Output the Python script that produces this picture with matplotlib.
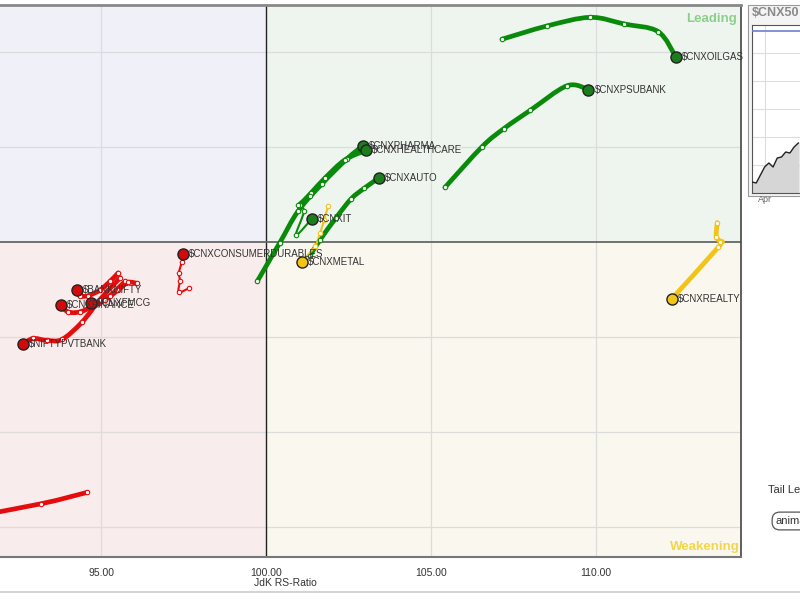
import matplotlib
matplotlib.use("Agg")
import matplotlib.pyplot as plt
from matplotlib.patches import Rectangle, PathPatch
from matplotlib.path import Path
from matplotlib.lines import Line2D

plt.rcParams['font.family'] = ['Liberation Sans', 'DejaVu Sans']

# ---------------- data (JdK RS-Ratio, JdK RS-Momentum) ----------------
names = ["$CNXOILGAS", "$CNXPSUBANK", "$CNXPHARMA", "$CNXHEALTHCARE", "$CNXAUTO",
         "$CNXIT", "$CNXMETAL", "$CNXREALTY", "$CNXCONSUMERDURABLES", "$BANKNIFTY",
         "$CNXFINANCE", "$CNXFMCG", "$NIFTYPVTBANK", "$CNXMEDIA"]

oilgas_x = [107.15, 108.52, 109.82, 110.85, 111.88, 112.42]
oilgas_y = [102.13, 102.27, 102.36, 102.29, 102.21, 101.94]
psubank_x = [105.42, 106.55, 107.21, 108.00, 109.12, 109.76]
psubank_y = [100.57, 101.00, 101.19, 101.38, 101.64, 101.60]
pharma_x = [99.73, 100.42, 100.97, 101.70, 102.45, 102.94]
pharma_y = [99.58, 99.99, 100.32, 100.61, 100.87, 101.01]
health_x = [101.03, 101.36, 101.79, 102.39, 103.03]
health_y = [100.39, 100.51, 100.67, 100.86, 100.96]
auto_x = [101.33, 101.64, 102.12, 102.58, 102.97, 103.42]
auto_y = [99.85, 100.02, 100.25, 100.45, 100.56, 100.67]
it_x = [101.33, 100.97, 101.15, 100.91, 101.39]
it_y = [100.48, 100.39, 100.32, 100.07, 100.24]
metal_x = [101.88, 101.76, 101.64, 101.48, 101.09]
metal_y = [100.37, 100.23, 100.09, 99.95, 99.79]
realty_x = [113.67, 113.64, 113.76, 113.70, 112.30]
realty_y = [100.20, 100.05, 100.00, 99.94, 99.40]
cdur_x = [97.67, 97.36, 97.39, 97.36, 97.45, 97.48]
cdur_y = [99.51, 99.47, 99.59, 99.67, 99.79, 99.87]
bank_x = [95.52, 95.27, 94.97, 94.61, 94.36, 94.27]
bank_y = [99.67, 99.58, 99.49, 99.43, 99.43, 99.49]
fin_x = [95.73, 95.27, 94.82, 94.36, 94.00, 93.79]
fin_y = [99.58, 99.43, 99.33, 99.26, 99.26, 99.33]
fmcg_x = [96.09, 95.82, 95.52, 95.12, 94.70]
fmcg_y = [99.56, 99.57, 99.49, 99.39, 99.35]
pvt_x = [95.58, 94.97, 94.42, 93.82, 93.36, 92.94, 92.64]
pvt_y = [99.62, 99.39, 99.15, 98.97, 98.96, 98.98, 98.92]
media_x = [94.58, 93.18, 90.73]
media_y = [97.36, 97.24, 97.08]

xs = [oilgas_x, psubank_x, pharma_x, health_x, auto_x, it_x, metal_x, realty_x,
      cdur_x, bank_x, fin_x, fmcg_x, pvt_x, media_x]
ys = [oilgas_y, psubank_y, pharma_y, health_y, auto_y, it_y, metal_y, realty_y,
      cdur_y, bank_y, fin_y, fmcg_y, pvt_y, media_y]
quadrant = ["L", "L", "L", "L", "L", "L", "W", "W", "G", "G", "G", "G", "G", "G"]
thin = [False, False, False, False, False, True, True, False, True, False, False, False, False, False]

x_ticks = [95, 100, 105, 110]

# mini benchmark chart
bench_name = "$CNX50"
bench_vals = [11, 10, 18, 26, 30, 26, 35, 36, 41, 40, 46, 50]

# ---------------- styling ----------------
tail_col = {"L": "#0a8a0a", "W": "#f2c318", "G": "#e30d0d"}
head_col = {"L": "#1c7d1c", "W": "#f2c318", "G": "#d40a0a"}


def smooth_path(px, py):
    """Catmull-Rom curve through the given points, as cubic Bezier path."""
    pts = list(zip(px, py))
    n = len(pts)
    verts = [pts[0]]
    codes = [Path.MOVETO]
    for i in range(n - 1):
        p0 = pts[i - 1] if i > 0 else pts[i]
        p1 = pts[i]
        p2 = pts[i + 1]
        p3 = pts[i + 2] if i + 2 < n else pts[i + 1]
        c1 = (p1[0] + (p2[0] - p0[0]) / 6, p1[1] + (p2[1] - p0[1]) / 6)
        c2 = (p2[0] - (p3[0] - p1[0]) / 6, p2[1] - (p3[1] - p1[1]) / 6)
        verts += [c1, c2, p2]
        codes += [Path.CURVE4] * 3
    return Path(verts, codes)


fig = plt.figure(figsize=(8, 6), dpi=100, facecolor="white")
W, H = 800, 600
ax = fig.add_axes([0, 1 - 557 / H, 741 / W, (557 - 5) / H])

x0, x1 = 91.94, 114.39
y0, y1 = 96.68, 102.49
ax.set_xlim(x0, x1)
ax.set_ylim(y0, y1)

# quadrant backgrounds
ax.add_patch(Rectangle((x0, 100), 100 - x0, y1 - 100, color="#f0f0f9", zorder=0, lw=0))
ax.add_patch(Rectangle((100, 100), x1 - 100, y1 - 100, color="#eef5ee", zorder=0, lw=0))
ax.add_patch(Rectangle((100, y0), x1 - 100, 100 - y0, color="#faf7ef", zorder=0, lw=0))
ax.add_patch(Rectangle((x0, y0), 100 - x0, 100 - y0, color="#f9ecec", zorder=0, lw=0))

for gx in [95, 105, 110]:
    ax.axvline(gx, color="#dcdcdc", lw=0.9, zorder=1)
for gy in [97, 98, 99, 101, 102]:
    ax.axhline(gy, color="#dcdcdc", lw=0.9, zorder=1)
ax.axvline(100, color="#222222", lw=1.0, zorder=2)
ax.axhline(100, color="#666666", lw=1.3, zorder=2)

ax.set_xticks(x_ticks)
ax.set_xticklabels(["%.2f" % t for t in x_ticks], fontsize=7.5, color="#333333")
ax.tick_params(axis="x", length=0, pad=8)
ax.set_yticks([])

ax.spines["left"].set_visible(False)
ax.spines["top"].set_color("#888888"); ax.spines["top"].set_linewidth(2)
ax.spines["right"].set_color("#444444"); ax.spines["right"].set_linewidth(1.2)
ax.spines["bottom"].set_color("#777777"); ax.spines["bottom"].set_linewidth(1.5)

for name, tx, ty, q, th in zip(names, xs, ys, quadrant, thin):
    lw = 1.5 if th else 3.4
    ax.add_patch(PathPatch(smooth_path(tx, ty), fill=False, edgecolor=tail_col[q], lw=lw,
                           capstyle="round", joinstyle="round", zorder=4))
    ax.plot(tx[:-1], ty[:-1], ls="none", marker="o", ms=3.2, mfc="white",
            mec=tail_col[q], mew=0.8, zorder=5)
    ax.plot(tx[-1], ty[-1], ls="none", marker="o", ms=8, mfc=head_col[q],
            mec="#222222", mew=1.0, zorder=6)
    ax.annotate(name, (tx[-1], ty[-1]), xytext=(4.5, 0), textcoords="offset points",
                fontsize=7, color="#333333", va="center", ha="left", zorder=7,
                annotation_clip=True)

ax.text(0.995, 0.985, "Leading", transform=ax.transAxes, ha="right", va="top",
        fontsize=9.5, fontweight="bold", color="#8ccf8c", zorder=8)
ax.text(0.998, 0.008, "Weakening", transform=ax.transAxes, ha="right", va="bottom",
        fontsize=9.5, fontweight="bold", color="#f2d64a", zorder=8)

fig.text(285 / W, 1 - 583 / H, "JdK RS-Ratio", fontsize=7.5, color="#333333",
         ha="center", va="center")
fig.add_artist(Line2D([0, 1], [1 - 592 / H, 1 - 592 / H], color="#cccccc", lw=1.2))

# ---------------- mini benchmark panel ----------------
panel = Rectangle((748 / W, 1 - 196 / H), 0.1, (196 - 5) / H, facecolor="#f4f4f4",
                  edgecolor="#999999", lw=0.8, zorder=-1)
fig.add_artist(panel)
mx = fig.add_axes([752 / W, 1 - 193 / H, 0.3, (193 - 25) / H])
mx.set_zorder(3)
mx.set_facecolor("white")
idx = list(range(len(bench_vals)))
mx.fill_between(idx, bench_vals, 0, color="#d6d6d6", zorder=2)
mx.plot(idx, bench_vals, color="#222222", lw=1.0, zorder=3)
mx.axhline(162, color="#6c7fd0", lw=1.2, zorder=3)
mx.set_xlim(0, 57)
mx.set_ylim(0, 168)
mx.set_yticks([28, 56, 84, 112, 140])
mx.set_xticks([3])
mx.grid(True, color="#dddddd", lw=0.8)
mx.tick_params(length=0, labelleft=False, labelbottom=False)
for s in mx.spines.values():
    s.set_color("#555555")
fig.text(752 / W, 1 - 13 / H, bench_name, fontsize=9, fontweight="bold", color="#8a8a8a",
         ha="left", va="center")
fig.text(765 / W, 1 - 200 / H, "Apr", fontsize=6.5, color="#666666", ha="center", va="center")

fig.text(768 / W, 1 - 490 / H, "Tail Length", fontsize=8, color="#333333", ha="left", va="center")
fig.text(776 / W, 1 - 521 / H, "animate", fontsize=8, color="#333333", ha="left", va="center",
         bbox=dict(boxstyle="round,pad=0.35,rounding_size=0.7", fc="white", ec="#555555", lw=0.9))

fig.savefig("out.png", dpi=100, facecolor=fig.get_facecolor())
